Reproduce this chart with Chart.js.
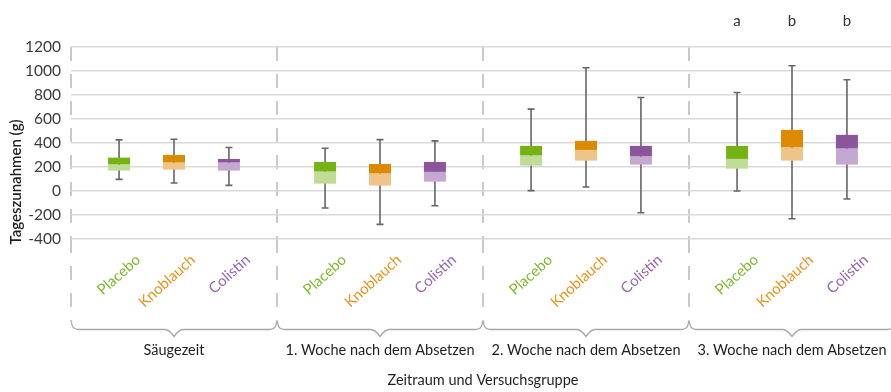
<!DOCTYPE html>
<html>
<head>
<meta charset="utf-8">
<script src="https://cdn.jsdelivr.net/npm/chart.js@4.4.1/dist/chart.umd.min.js"></script>
<style>
  html, body { margin: 0; padding: 0; background: #fff; overflow: hidden; }
  canvas { display: block; }
</style>
</head>
<body>
<canvas id="chart" width="896" height="392"></canvas>
<script>
// Zeiträume (Kategorien der x-Achse)
const periods = ['Säugezeit', '1. Woche nach dem Absetzen', '2. Woche nach dem Absetzen', '3. Woche nach dem Absetzen'];
// Versuchsgruppen
const groups = ['Placebo', 'Knoblauch', 'Colistin'];

// Tageszunahmen (g): Minimum, 1. Quartil, Median, 3. Quartil, Maximum je Zeitraum
const placeboMin    = [97, -142, 3, 0];
const placeboQ1     = [170, 61, 211, 186];
const placeboMedian = [220, 161, 295, 267];
const placeboQ3     = [278, 242, 376, 376];
const placeboMax    = [426, 356, 682, 821];

const knoblauchMin    = [67, -278, 33, -231];
const knoblauchQ1     = [178, 45, 253, 253];
const knoblauchMedian = [236, 145, 342, 362];
const knoblauchQ3     = [300, 225, 418, 509];
const knoblauchMax    = [431, 428, 1027, 1044];

const colistinMin    = [47, -123, -181, -67];
const colistinQ1     = [170, 78, 220, 220];
const colistinMedian = [236, 159, 287, 353];
const colistinQ3     = [267, 242, 376, 468];
const colistinMax    = [362, 418, 779, 927];

// Signifikanzbuchstaben je Zeitraum
const placeboSig   = ['', '', '', 'a'];
const knoblauchSig = ['', '', '', 'b'];
const colistinSig  = ['', '', '', 'b'];

// y-Achse
const yMin = -400, yMax = 1200, yStep = 200;

const FONT = 'Lato, "Open Sans", sans-serif';

const stats = [
  { min: placeboMin, q1: placeboQ1, med: placeboMedian, q3: placeboQ3, max: placeboMax, sig: placeboSig,
    dark: '#76b214', light: '#c0dc96', text: '#7db82e' },
  { min: knoblauchMin, q1: knoblauchQ1, med: knoblauchMedian, q3: knoblauchQ3, max: knoblauchMax, sig: knoblauchSig,
    dark: '#dc8a00', light: '#efc489', text: '#e6931c' },
  { min: colistinMin, q1: colistinQ1, med: colistinMedian, q3: colistinQ3, max: colistinMax, sig: colistinSig,
    dark: '#8b559c', light: '#c4a8d2', text: '#9b66ae' }
];

// Jede Box besteht aus zwei schwebenden Balken im selben Stapel: Q1–Median (hell) und Median–Q3 (dunkel)
const datasets = [];
stats.forEach((s, g) => {
  datasets.push({
    label: groups[g] + ' Q1–Median',
    stack: groups[g],
    data: periods.map((_, i) => [s.q1[i], s.med[i]]),
    backgroundColor: s.light,
    barPercentage: 0.4,
    categoryPercentage: 0.8
  });
  datasets.push({
    label: groups[g] + ' Median–Q3',
    stack: groups[g],
    data: periods.map((_, i) => [s.med[i], s.q3[i]]),
    backgroundColor: s.dark,
    barPercentage: 0.4,
    categoryPercentage: 0.8
  });
});

// Whisker von Minimum bis Maximum, hinter den Boxen
const whiskers = {
  id: 'whiskers',
  beforeDatasetsDraw(chart) {
    const ctx = chart.ctx, y = chart.scales.y;
    ctx.save();
    ctx.strokeStyle = '#666666';
    ctx.lineWidth = 1.6;
    stats.forEach((s, g) => {
      chart.getDatasetMeta(g * 2).data.forEach((bar, i) => {
        const x = bar.x;
        const y1 = y.getPixelForValue(s.min[i]);
        const y2 = y.getPixelForValue(s.max[i]);
        ctx.beginPath();
        ctx.moveTo(x, y1); ctx.lineTo(x, y2);
        ctx.moveTo(x - 3.5, y1); ctx.lineTo(x + 3.5, y1);
        ctx.moveTo(x - 3.5, y2); ctx.lineTo(x + 3.5, y2);
        ctx.stroke();
      });
    });
    ctx.restore();
  }
};

// Gruppennamen, Klammern, Buchstaben und Titel der y-Achse
const annotations = {
  id: 'annotations',
  afterDraw(chart) {
    const ctx = chart.ctx, xs = chart.scales.x;
    ctx.save();

    // schräge Gruppennamen unter jeder Box
    ctx.font = '15px ' + FONT;
    ctx.textAlign = 'right';
    ctx.textBaseline = 'top';
    stats.forEach((s, g) => {
      chart.getDatasetMeta(g * 2).data.forEach((bar) => {
        ctx.save();
        ctx.translate(bar.x + 14, 252);
        ctx.rotate(-42 * Math.PI / 180);
        ctx.fillStyle = s.text;
        ctx.fillText(groups[g], 0, 0);
        ctx.restore();
      });
    });

    // geschweifte Klammern je Zeitraum
    const w = (xs.right - xs.left) / periods.length;
    const by = 329.5;
    ctx.strokeStyle = '#a8a8a8';
    ctx.lineWidth = 1.3;
    periods.forEach((_, i) => {
      const l = xs.left + i * w + 0.5, r = xs.left + (i + 1) * w - 0.5, m = (l + r) / 2;
      ctx.beginPath();
      ctx.moveTo(l, by - 8);
      ctx.quadraticCurveTo(l, by, l + 7, by);
      ctx.lineTo(m - 9, by);
      ctx.quadraticCurveTo(m - 5, by, m, by + 7);
      ctx.quadraticCurveTo(m + 5, by, m + 9, by);
      ctx.lineTo(r - 7, by);
      ctx.quadraticCurveTo(r, by, r, by - 8);
      ctx.stroke();
    });

    // Signifikanzbuchstaben
    ctx.fillStyle = '#333333';
    ctx.font = '15px ' + FONT;
    ctx.textAlign = 'center';
    ctx.textBaseline = 'middle';
    stats.forEach((s, g) => {
      chart.getDatasetMeta(g * 2).data.forEach((bar, i) => {
        if (s.sig[i]) ctx.fillText(s.sig[i], bar.x, 21);
      });
    });

    // Titel der y-Achse
    ctx.save();
    ctx.translate(16, 182);
    ctx.rotate(-Math.PI / 2);
    ctx.fillStyle = '#1e1e1e';
    ctx.font = '600 15px ' + FONT;
    ctx.fillText('Tageszunahmen (g)', 0, 0);
    ctx.restore();

    ctx.restore();
  }
};

new Chart(document.getElementById('chart'), {
  type: 'bar',
  data: { labels: periods, datasets },
  options: {
    responsive: false,
    animation: false,
    devicePixelRatio: 1,
    layout: { padding: { top: 47, right: 1, left: 0, bottom: 0 } },
    plugins: { legend: { display: false }, tooltip: { enabled: false } },
    scales: {
      x: {
        grid: {
          color: '#c9c9c9',
          lineWidth: 2,
          drawTicks: true,
          tickLength: 83,
          tickBorderDash: [14, 13],
          tickColor: '#c9c9c9'
        },
        border: { display: false, dash: [14, 13] },
        ticks: {
          color: '#1e1e1e',
          font: { family: FONT, size: 14.5 },
          padding: 20,
          maxRotation: 0,
          autoSkip: false
        },
        title: {
          display: true,
          text: 'Zeitraum und Versuchsgruppe',
          color: '#1e1e1e',
          font: { family: FONT, size: 14.5 },
          padding: { top: 0, bottom: 3 }
        },
        afterFit(scale) {
          scale.height = 153;
          scale.paddingLeft = 0;
          scale.paddingRight = 0;
        }
      },
      y: {
        min: yMin,
        max: yMax,
        stacked: false,
        grid: { color: '#dadada', lineWidth: 1.6, drawTicks: false },
        border: { display: false },
        ticks: {
          stepSize: yStep,
          color: '#3a3a3a',
          font: { family: FONT, size: 15.5 },
          padding: 10,
          callback: (v) => String(v)
        },
        afterFit(scale) { scale.width = 71; }
      }
    }
  },
  plugins: [whiskers, annotations]
});
</script>
</body>
</html>
